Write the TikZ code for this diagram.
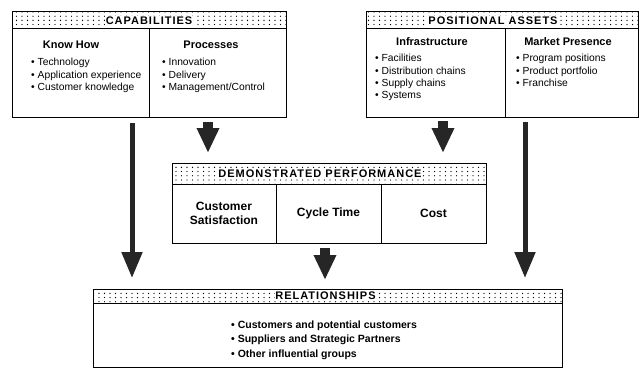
\documentclass[tikz,border=0pt]{standalone}
\usepackage{fontspec}
\setmainfont{Liberation Sans}
\newfontfamily\hdrfont[LetterSpace=9]{Liberation Sans}
\usetikzlibrary{arrows.meta,patterns,positioning,calc}
\pgfdeclarepatternformonly{sparse dots}{\pgfqpoint{-1pt}{-1pt}}{\pgfqpoint{1pt}{1pt}}{\pgfqpoint{5.5pt}{4.2pt}}{%
  \pgfpathcircle{\pgfqpoint{0pt}{0pt}}{0.65pt}\pgfusepath{fill}}
\tikzstyle{hdr} = [draw, line width=1pt, pattern=sparse dots, inner sep=0pt, outer sep=0pt]
\tikzstyle{ttl} = [fill=white, inner sep=0.8pt, font=\hdrfont\bfseries\fontsize{11}{12}\selectfont]
\tikzstyle{cell} = [draw, line width=1pt, inner sep=0pt, outer sep=0pt]
\tikzstyle{subhd} = [font=\bfseries\fontsize{11}{12}\selectfont]
\tikzstyle{perfhd} = [font=\bfseries\fontsize{12}{14}\selectfont]
\tikzstyle{item} = [anchor=base west, inner sep=0pt, font=\fontsize{10.3}{11}\selectfont]
\tikzstyle{relitem} = [anchor=base west, inner sep=0pt, font=\bfseries\fontsize{10.5}{12}\selectfont]
\tikzstyle{bigarrow} = [line width=5pt, black!85, -{Triangle[width=20pt,length=26pt]}]
\tikzstyle{stubarrow} = [line width=10pt, black!85, -{Triangle[width=21pt,length=25pt]}]

\begin{document}
\begin{tikzpicture}[x=1pt,y=-1pt]
\useasboundingbox (0,0) rectangle (642,369);

% capabilities
\node[hdr, minimum width=274pt, minimum height=17pt] (caphdr) at (149,20.5) {};
\node[ttl] (captxt) at (caphdr) {CAPABILITIES};
\node[cell, minimum width=137pt, minimum height=88pt, anchor=north west] (knowhow) at (caphdr.south west) {};
\node[cell, minimum width=137pt, minimum height=88pt, right=0pt of knowhow] (proc) {};
\node[subhd] (khtitle) at (71,45) {Know How};
\node[subhd] (proctitle) at (211,45) {Processes};
\foreach \t [count=\i] in {Technology, Application experience, Customer knowledge}{
	\node[item] (kh\i) at (31,53+12.5*\i) {\textbullet\ \t};
}
\foreach \t [count=\i] in {Innovation, Delivery, Management/Control}{
	\node[item] (pr\i) at (162,53+12.5*\i) {\textbullet\ \t};
}

% positional assets
\node[hdr, minimum width=272pt, minimum height=17pt] (poshdr) at (502,20.5) {};
\node[ttl] (postxt) at ([xshift=-9pt]poshdr.center) {POSITIONAL ASSETS};
\node[cell, minimum width=139pt, minimum height=88pt, anchor=north west] (infra) at (poshdr.south west) {};
\node[cell, minimum width=133pt, minimum height=88pt, right=0pt of infra] (market) {};
\node[subhd] (inftitle) at (432,42) {Infrastructure};
\node[subhd] (mkttitle) at (568,42) {Market Presence};
\foreach \t [count=\i] in {Facilities, Distribution chains, Supply chains, Systems}{
	\node[item] (in\i) at (375,49.7+12.3*\i) {\textbullet\ \t};
}
\foreach \t [count=\i] in {Program positions, Product portfolio, Franchise}{
	\node[item] (mk\i) at (516,49.7+12.3*\i) {\textbullet\ \t};
}

% demonstrated performance
\node[hdr, minimum width=314pt, minimum height=21pt] (perfhdr) at (329,173.5) {};
\node[ttl] (perftxt) at ([xshift=-9pt]perfhdr.center) {DEMONSTRATED PERFORMANCE};
\node[cell, minimum width=104pt, minimum height=59pt, anchor=north west, perfhd, align=center] (cs) at (perfhdr.south west) {Customer\\Satisfaction};
\node[cell, minimum width=105pt, minimum height=59pt, right=0pt of cs, perfhd] (ct) {Cycle Time};
\node[cell, minimum width=105pt, minimum height=59pt, right=0pt of ct, perfhd] (cost) {Cost};

% relationships
\node[hdr, minimum width=469pt, minimum height=14pt] (relhdr) at (327.5,296) {};
\node[ttl] (reltxt) at ([xshift=-2pt]relhdr.center) {RELATIONSHIPS};
\node[cell, minimum width=469pt, minimum height=64pt, anchor=north] (relbody) at (relhdr.south) {};
\foreach \t [count=\i] in {Customers and potential customers, Suppliers and Strategic Partners, Other influential groups}{
	\node[relitem] (rl\i) at (231,313.5+14.5*\i) {\textbullet\ \t};
}

% arrows
\coordinate (la) at ([xshift=51.5pt]knowhow.south);
\coordinate (ls) at ([xshift=-9.5pt]proc.south);
\coordinate (rs) at ([xshift=7.5pt]infra.south);
\coordinate (ra) at ([xshift=-46.5pt]market.south);
\coordinate (ms) at ([xshift=-3.5pt]ct.south);
\draw[bigarrow, shorten <=6pt, shorten >=11pt] (la) -- (la |- relhdr.north);
\draw[bigarrow, shorten <=5pt, shorten >=11pt] (ra) -- (ra |- relhdr.north);
\draw[stubarrow, shorten <=5pt, shorten >=10pt] (ls) -- (ls |- perfhdr.north);
\draw[stubarrow, shorten <=4pt, shorten >=10pt] (rs) -- (rs |- perfhdr.north);
\draw[stubarrow, shorten <=5pt, shorten >=9pt] (ms) -- (ms |- relhdr.north);
\end{tikzpicture}
\end{document}
